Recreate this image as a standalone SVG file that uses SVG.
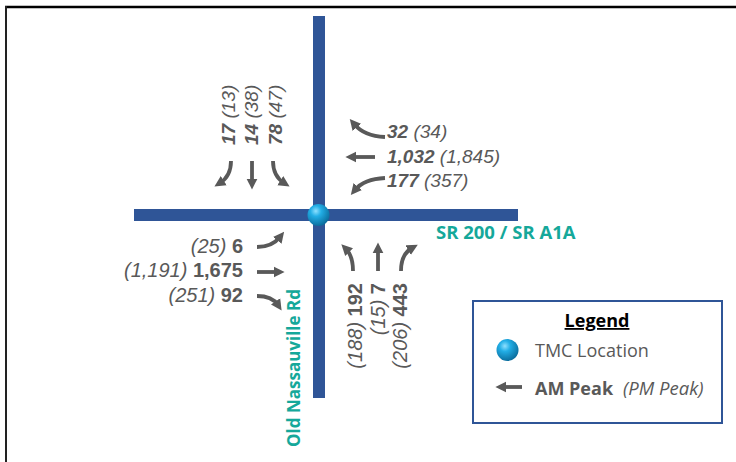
<svg xmlns="http://www.w3.org/2000/svg" width="736" height="462" viewBox="0 0 736 462">
<style>
.road{fill:#2F5597}
.arr{fill:none;stroke:#595959;stroke-width:3.8;marker-end:url(#ah)}
.lbl{font-family:"Liberation Sans",Arial,sans-serif;font-size:19px;fill:#595959;font-style:italic}
.lb2{font-family:"Liberation Sans",Arial,sans-serif;font-size:20px;fill:#595959;font-style:italic}
.b{font-weight:bold}
.up{font-style:normal}
.rd{font-family:"Open Sans",sans-serif;font-weight:bold;font-size:18.5px;fill:#15A89A}
.lg{font-family:"Open Sans",sans-serif;font-size:18px;fill:#595959}
</style>
<defs>
<marker id="ah" viewBox="0 0 10 10" markerWidth="11" markerHeight="12" refX="4" refY="5" orient="auto" markerUnits="userSpaceOnUse">
<path d="M0,0 L10,5 L0,10 z" fill="#595959"/>
</marker>
<radialGradient id="ball" cx="0.38" cy="0.32" r="0.7">
<stop offset="0" stop-color="#8fe0ff"/>
<stop offset="0.35" stop-color="#22aee6"/>
<stop offset="1" stop-color="#0a6c9c"/>
</radialGradient>
</defs>
<g id="frame">
<line x1="5" y1="7" x2="736" y2="7" stroke="#000" stroke-width="2.5"/>
<line x1="6" y1="6" x2="6" y2="462" stroke="#222" stroke-width="2"/>
</g>
<g id="roads">
<rect class="road" x="313" y="16" width="12" height="382"/>
<rect class="road" x="134" y="209" width="384" height="12"/>
</g>
<g id="tmc"><circle cx="318.5" cy="215" r="11" fill="url(#ball)"/></g>
<g id="connectors">
<path class="arr" d="M231,161 Q231,176 220,183"/>
<path class="arr" d="M252,161 L252,183"/>
<path class="arr" d="M273,161 Q273,176 284,183"/>
<path class="arr" d="M385,137 Q364,136 354,124"/>
<path class="arr" d="M375,157 L352,157"/>
<path class="arr" d="M385,178 Q364,179 355,190"/>
<path class="arr" d="M257,247 Q272,247 280,237"/>
<path class="arr" d="M257,272 L278,272"/>
<path class="arr" d="M257,296 Q272,296 278,305"/>
<path class="arr" d="M353,271 Q353,256 346,249"/>
<path class="arr" d="M378,271 L378,249"/>
<path class="arr" d="M401,271 Q401,254 412,248"/>
</g>
<g id="sb-labels">
<text class="lbl" transform="translate(235,145) rotate(-90)"><tspan class="b">17</tspan> (13)</text>
<text class="lbl" transform="translate(258,145) rotate(-90)"><tspan class="b">14</tspan> (38)</text>
<text class="lbl" transform="translate(282,145) rotate(-90)"><tspan class="b">78</tspan> (47)</text>
</g>
<g id="wb-labels">
<text class="lbl" x="387" y="138"><tspan class="b">32</tspan> (34)</text>
<text class="lbl" x="387" y="163"><tspan class="b">1,032</tspan> (1,845)</text>
<text class="lbl" x="387" y="187"><tspan class="b">177</tspan> (357)</text>
</g>
<g id="eb-labels">
<text class="lb2" x="243" y="253" text-anchor="end">(25) <tspan class="b up">6</tspan></text>
<text class="lb2" x="243" y="277" text-anchor="end">(1,191) <tspan class="b up">1,675</tspan></text>
<text class="lb2" x="243" y="302" text-anchor="end">(251) <tspan class="b up">92</tspan></text>
</g>
<g id="nb-labels">
<text class="lb2" transform="translate(362,283) rotate(-90)" text-anchor="end">(188) <tspan class="b up">192</tspan></text>
<text class="lb2" transform="translate(385,283) rotate(-90)" text-anchor="end">(15) <tspan class="b up">7</tspan></text>
<text class="lb2" transform="translate(407,283) rotate(-90)" text-anchor="end">(206) <tspan class="b up">443</tspan></text>
</g>
<g id="road-names">
<text class="rd" x="436" y="239">SR 200 / SR A1A</text>
<text class="rd" transform="translate(300,447) rotate(-90)" style="font-size:17px">Old Nassauville Rd</text>
</g>
<g id="legend">
<rect x="473" y="301" width="249" height="122" fill="#fff" stroke="#2F5597" stroke-width="2"/>
<text class="lg" x="597" y="327" text-anchor="middle" font-weight="bold" style="fill:#000" text-decoration="underline">Legend</text>
<circle cx="507.5" cy="350" r="11" fill="url(#ball)"/>
<text class="lg" x="535" y="357">TMC Location</text>
<path class="arr" d="M522,387 L502,387"/>
<text class="lg" x="535" y="395" font-weight="bold">AM Peak</text>
<text class="lg" x="623" y="395" font-style="italic" style="font-size:18.5px">(PM Peak)</text>
</g>
</svg>
